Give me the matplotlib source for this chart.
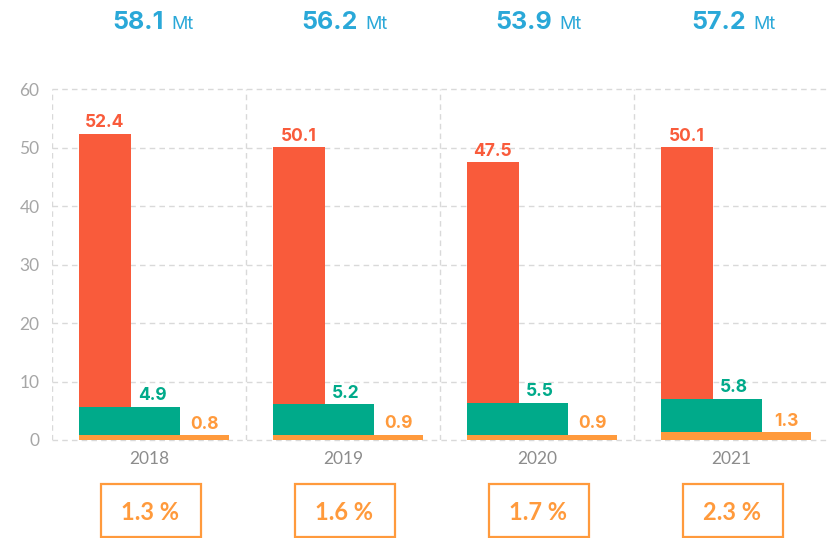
import matplotlib
matplotlib.use("Agg")
import matplotlib.pyplot as plt
from matplotlib.patches import Rectangle
from matplotlib.transforms import blended_transform_factory

plt.rcParams['font.family'] = ['Lato', 'DejaVu Sans']
NUMFONT = ['Inter', 'DejaVu Sans']

years = ["2018", "2019", "2020", "2021"]
red_vals = [52.4, 50.1, 47.5, 50.1]
green_vals = [4.9, 5.2, 5.5, 5.8]
orange_vals = [0.8, 0.9, 0.9, 1.3]
totals = ["58.1", "56.2", "53.9", "57.2"]
shares = ["1.3 %", "1.6 %", "1.7 %", "2.3 %"]
unit = "Mt"
yticks = [0, 10, 20, 30, 40, 50, 60]

RED = "#F95B3B"
GREEN = "#00AA8A"
ORANGE = "#FF9A3C"
BLUE = "#2AA8D8"
GRID = "#D9D9D9"

W, H = 830, 538
fig = plt.figure(figsize=(W / 100, H / 100), dpi=100)
ax = fig.add_axes([52 / W, 98 / H, (828 - 52) / W, 350.7 / H])

group_px = (828 - 52) / 4
off = 27 / group_px
red_w = 51.5 / group_px
green_w = 100.5 / group_px
orange_w = 150 / group_px

x = list(range(len(years)))
lefts = [i - 0.5 + off for i in x]

ax.bar(lefts, red_vals, width=red_w, align='edge', color=RED, zorder=2)
ax.bar(lefts, green_vals, width=green_w, bottom=orange_vals, align='edge', color=GREEN, zorder=3)
ax.bar(lefts, orange_vals, width=orange_w, align='edge', color=ORANGE, zorder=4)

lab_kw = dict(textcoords='offset points', ha='center', va='baseline',
              fontsize=12.5, fontweight='bold', family=NUMFONT)
for i, l in enumerate(lefts):
    ax.annotate(f"{red_vals[i]:.1f}", xy=(l + red_w / 2, red_vals[i]), xytext=(0, 4.5),
                color=RED, **lab_kw)
    gtop = green_vals[i] + orange_vals[i]
    ax.annotate(f"{green_vals[i]:.1f}", xy=(l + (red_w + green_w) / 2 - 0.015, gtop), xytext=(0, 4.5),
                color=GREEN, **lab_kw)
    ax.annotate(f"{orange_vals[i]:.1f}", xy=(l + (green_w + orange_w) / 2, orange_vals[i]), xytext=(0, 4.5),
                color=ORANGE, **lab_kw)

ax.set_xlim(-0.5, 3.5)
ax.set_ylim(0, 60)

# grid
for y in yticks:
    ax.axhline(y, color=GRID, lw=1, ls=(0, (4, 3)), zorder=1, clip_on=False)
for xv in [-0.5, 0.5, 1.5, 2.5]:
    ax.axvline(xv, color=GRID, lw=1, ls=(0, (4, 3)), zorder=1)

for s in ax.spines.values():
    s.set_visible(False)

ax.set_yticks(yticks)
ax.set_yticklabels([str(v) for v in yticks], color="#A6A6A6", fontsize=12.5)
ax.tick_params(axis='y', length=0, pad=9)
ax.set_xticks(x)
ax.set_xticklabels(years, color="#8C8C8C", fontsize=12.5)
ax.tick_params(axis='x', length=0, pad=8)

# totals on top
for i in x:
    ax.annotate(totals[i], xy=(i, 508.7 / H), xycoords=('data', 'figure fraction'),
                xytext=(10.8, 0), textcoords='offset points', ha='right', va='baseline',
                color=BLUE, fontsize=18, fontweight='bold', family=NUMFONT)
    ax.annotate(unit, xy=(i, 508.7 / H), xycoords=('data', 'figure fraction'),
                xytext=(16, 0), textcoords='offset points', ha='left', va='baseline',
                color=BLUE, fontsize=13, family=NUMFONT)

# share boxes
trans = blended_transform_factory(ax.transData, fig.transFigure)
bw = 100 / group_px
for i in x:
    rect = Rectangle((i + 0.01 - bw / 2, 1.5 / H), bw, 52.5 / H, transform=trans,
                     fill=False, edgecolor=ORANGE, lw=1.6, clip_on=False)
    fig.add_artist(rect)
    ax.text(i + 0.005, 18 / H, shares[i], transform=trans, ha='center', va='baseline',
            color=ORANGE, fontsize=17, fontweight='bold', clip_on=False)

fig.savefig("out.png", dpi=100)
